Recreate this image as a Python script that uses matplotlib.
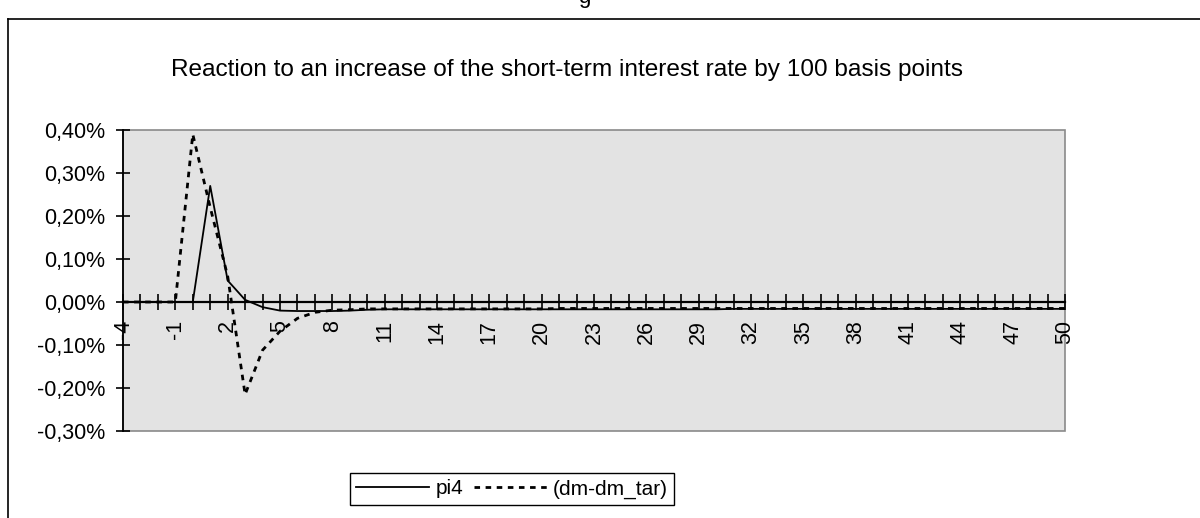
import matplotlib.pyplot as plt
from matplotlib.patches import Rectangle
from matplotlib.ticker import MultipleLocator, FuncFormatter
import matplotlib.lines as mlines

plt.rcParams['font.family'] = ['Liberation Sans', 'DejaVu Sans']

# quarters after the shock, -4 .. 50
periods = list(range(-4, 51))

# responses in percent
pi4 = [0, 0, 0, 0, 0, 0.27, 0.05, 0.005, -0.012, -0.020,
       -0.021, -0.021, -0.021, -0.020, -0.018,
       -0.017, -0.017, -0.017, -0.017, -0.017, -0.017, -0.017, -0.017, -0.017, -0.017,
       -0.017, -0.017, -0.017, -0.017, -0.017, -0.017, -0.017, -0.017, -0.017, -0.017,
       -0.016, -0.016, -0.016, -0.016, -0.016, -0.016, -0.016, -0.016, -0.016, -0.016,
       -0.016, -0.016, -0.016, -0.016, -0.016, -0.016, -0.016, -0.016, -0.016, -0.016]
dm_gap = [0, 0, 0, 0, 0.39, 0.22, 0.06, -0.215, -0.112, -0.068,
          -0.038, -0.024, -0.019, -0.018, -0.016,
          -0.016, -0.016, -0.016, -0.016, -0.016, -0.016, -0.016, -0.016, -0.016, -0.016,
          -0.015, -0.015, -0.015, -0.015, -0.015, -0.015, -0.015, -0.015, -0.015, -0.015,
          -0.015, -0.015, -0.015, -0.015, -0.015, -0.015, -0.015, -0.015, -0.015, -0.015,
          -0.015, -0.015, -0.015, -0.015, -0.015, -0.015, -0.015, -0.015, -0.015, -0.015]

title = 'Reaction to an increase of the short-term interest rate by 100 basis points'

fig = plt.figure(figsize=(12, 5.18), dpi=100)

# outer frame of the figure box (only left and top edges are visible)
fig.add_artist(mlines.Line2D([8 / 1200, 8 / 1200], [0, 1 - 19 / 518], color='black', lw=1.2))
fig.add_artist(mlines.Line2D([8 / 1200, 1], [1 - 19 / 518, 1 - 19 / 518], color='black', lw=1.2))
fig.text(0.487, 1 - 3 / 518, 'g', fontsize=16, ha='center', va='baseline')

ax = fig.add_axes([123 / 1200, 87 / 518, 942 / 1200, 301 / 518])
ax.set_facecolor('#e3e3e3')

ax.plot(periods, pi4, color='black', lw=1.3, label='pi4')
ax.plot(periods, dm_gap, color='black', lw=2.0, linestyle=(0, (2.0, 2.0)), label='(dm-dm_tar)')

ax.set_xlim(-4, 50)
ax.set_ylim(-0.30, 0.40)

for side in ['top', 'right']:
    ax.spines[side].set_visible(False)
ax.spines['left'].set_color('black')
ax.spines['left'].set_linewidth(1.3)
ax.spines['bottom'].set_position(('data', 0))
ax.spines['bottom'].set_color('black')
ax.spines['bottom'].set_linewidth(1.6)
ax.add_patch(Rectangle((0, 0), 1, 1, transform=ax.transAxes, fill=False,
                       edgecolor='#8a8a8a', lw=1.2, clip_on=False, zorder=0.5))

ax.yaxis.set_major_locator(MultipleLocator(0.1))
ax.yaxis.set_major_formatter(FuncFormatter(lambda v, p: f'{v:.2f}%'.replace('.', ',')))
ax.tick_params(axis='y', direction='inout', length=10, width=1.2, labelsize=15.5, pad=8)

ax.set_xticks(periods[::3])
ax.set_xticks(periods, minor=True)
ax.set_xticklabels([str(p) for p in periods[::3]], rotation=90)
ax.tick_params(axis='x', which='both', direction='inout', length=12, width=1.2)
ax.tick_params(axis='x', which='major', labelsize=15.5, pad=7)

fig.text(567 / 1200, 1 - 70 / 518, title, fontsize=17.6, ha='center', va='center')

leg = fig.legend(loc='center', bbox_to_anchor=(512 / 1200, 1 - 489 / 518), ncol=2,
                 fontsize=15, handlelength=3.5, columnspacing=0.5, handletextpad=0.3,
                 fancybox=False, edgecolor='black', framealpha=1, borderpad=0.3)
leg.get_frame().set_linewidth(1.0)

fig.savefig('out.png', dpi=100)
